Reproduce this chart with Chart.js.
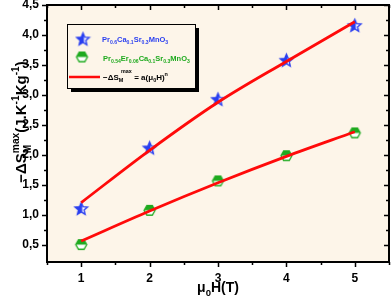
<!DOCTYPE html>
<html>
<head>
<meta charset="utf-8">
<script src="https://cdn.jsdelivr.net/npm/chart.js@4/dist/chart.umd.min.js"></script>
<style>
  html, body { margin: 0; padding: 0; background: #fff; }
  canvas { display: block; }
</style>
</head>
<body>
<canvas id="chart" width="392" height="297"></canvas>
<script>
// field values mu0H (T)
const fields = [1, 2, 3, 4, 5];
// -dS_M^max for Pr0.6Ca0.1Sr0.3MnO3
const dsPrCaSr = [1.11, 2.12, 2.93, 3.58, 4.16];
// -dS_M^max for Pr0.54Er0.06Ca0.1Sr0.3MnO3
const dsPrErCaSr = [0.51, 1.08, 1.57, 1.99, 2.37];
// fitted curves a(mu0H)^n
const fitPrCaSr = [1.21, 2.08, 2.88, 3.56, 4.22];
const fitPrErCaSr = [0.57, 1.07, 1.54, 1.98, 2.39];

const FONT = '"Liberation Sans", Arial, sans-serif';
const BLUE = '#2a3ff0';
const GREEN = '#1faa1f';
const RED = '#ff0a0a';
const BG = '#fdf5e9';

function starPath(g, cx, cy, r) {
  g.beginPath();
  for (let i = 0; i < 10; i++) {
    const rr = i % 2 ? r * 0.45 : r;
    const a = -Math.PI / 2 + i * Math.PI / 5;
    g.lineTo(cx + rr * Math.cos(a), cy + rr * Math.sin(a));
  }
  g.closePath();
}

function hexPath(g, cx, cy, r) {
  g.beginPath();
  for (let i = 0; i < 6; i++) {
    const a = i * Math.PI / 3;
    g.lineTo(cx + r * Math.cos(a), cy + r * Math.sin(a));
  }
  g.closePath();
}

function makeStar(r) {
  const s = Math.ceil(r * 2 + 4);
  const c = document.createElement('canvas');
  c.width = c.height = s;
  const g = c.getContext('2d');
  starPath(g, s / 2, s / 2 + 0.5, r);
  g.fillStyle = '#fff';
  g.fill();
  g.save();
  g.beginPath(); g.rect(0, 0, s / 2 + 1, s); g.clip();
  starPath(g, s / 2, s / 2 + 0.5, r);
  g.fillStyle = BLUE; g.fill();
  g.restore();
  starPath(g, s / 2, s / 2 + 0.5, r);
  g.strokeStyle = BLUE; g.lineWidth = 1.4; g.stroke();
  return c;
}

function makeHex(r) {
  const s = Math.ceil(r * 2 + 4);
  const c = document.createElement('canvas');
  c.width = c.height = s;
  const g = c.getContext('2d');
  hexPath(g, s / 2, s / 2, r);
  g.fillStyle = '#fff'; g.fill();
  g.save();
  g.beginPath(); g.rect(0, 0, s, s / 2); g.clip();
  hexPath(g, s / 2, s / 2, r);
  g.fillStyle = GREEN; g.fill();
  g.restore();
  hexPath(g, s / 2, s / 2, r);
  g.strokeStyle = GREEN; g.lineWidth = 1.3; g.stroke();
  return c;
}

const starImg = makeStar(6.5);
const hexImg = makeHex(5.5);

// text with sub/superscripts: parts = [[text, 'n'|'sub'|'sup'], ...]
function richWidth(ctx, parts, size) {
  let w = 0;
  parts.forEach(([t, m]) => {
    ctx.font = 'bold ' + (m === 'n' ? size : size * 0.68) + 'px ' + FONT;
    w += ctx.measureText(t).width;
  });
  return w;
}
function drawRich(ctx, parts, x, y, size, color) {
  ctx.fillStyle = color;
  ctx.textAlign = 'left';
  ctx.textBaseline = 'alphabetic';
  parts.forEach(([t, m]) => {
    const sz = m === 'n' ? size : size * 0.68;
    ctx.font = 'bold ' + sz + 'px ' + FONT;
    let dy = 0;
    if (m === 'sub') dy = size * 0.3;
    if (m === 'sup') dy = -size * 0.45;
    ctx.fillText(t, x, y + dy);
    x += ctx.measureText(t).width;
  });
  return x;
}

function isMajor(v, step) {
  return Math.abs(v / step - Math.round(v / step)) < 1e-6;
}

const decorPlugin = {
  id: 'decor',
  beforeDraw(chart) {
    const { ctx, chartArea: a } = chart;
    ctx.save();
    ctx.fillStyle = BG;
    ctx.fillRect(a.left, a.top, a.right - a.left, a.bottom - a.top);
    ctx.restore();
  },
  afterDraw(chart) {
    const { ctx, chartArea: a } = chart;
    const xs = chart.scales.x, ys = chart.scales.y;
    ctx.save();
    // frame
    ctx.strokeStyle = '#000';
    ctx.lineWidth = 2;
    ctx.strokeRect(a.left, a.top, a.right - a.left, a.bottom - a.top);
    // ticks
    ctx.lineWidth = 1.5;
    ctx.beginPath();
    xs.ticks.forEach(t => {
      if (!isMajor(t.value, 0.5)) return;
      const px = Math.round(xs.getPixelForValue(t.value)) + 0.5;
      const len = isMajor(t.value, 1) ? 5 : 3;
      ctx.moveTo(px, a.bottom); ctx.lineTo(px, a.bottom + len);
      ctx.moveTo(px, a.top); ctx.lineTo(px, a.top + len);
    });
    ys.ticks.forEach(t => {
      if (!isMajor(t.value, 0.25)) return;
      const py = Math.round(ys.getPixelForValue(t.value)) + 0.5;
      const len = isMajor(t.value, 0.5) ? 5 : 3;
      ctx.moveTo(a.left, py); ctx.lineTo(a.left - len, py);
      ctx.moveTo(a.right, py); ctx.lineTo(a.right - len, py);
    });
    ctx.stroke();

    // legend box with shadow
    const lx = 67, ly = 24, lw = 128, lh = 64;
    ctx.fillStyle = '#000';
    ctx.fillRect(lx + 4, ly + 4, lw, lh);
    ctx.fillStyle = BG;
    ctx.fillRect(lx, ly, lw, lh);
    ctx.lineWidth = 1;
    ctx.strokeRect(lx + 0.5, ly + 0.5, lw, lh);
    ctx.drawImage(starImg, 83 - starImg.width / 2, 39 - starImg.height / 2);
    ctx.drawImage(hexImg, 82 - hexImg.width / 2, 57 - hexImg.height / 2);
    ctx.strokeStyle = RED;
    ctx.lineWidth = 2.5;
    ctx.beginPath(); ctx.moveTo(69, 77); ctx.lineTo(100, 77); ctx.stroke();

    drawRich(ctx, [['Pr', 'n'], ['0.6', 'sub'], ['Ca', 'n'], ['0.1', 'sub'], ['Sr', 'n'], ['0.3', 'sub'], ['MnO', 'n'], ['3', 'sub']], 102, 42, 7.5, BLUE);
    drawRich(ctx, [['Pr', 'n'], ['0.54', 'sub'], ['Er', 'n'], ['0.06', 'sub'], ['Ca', 'n'], ['0.1', 'sub'], ['Sr', 'n'], ['0.3', 'sub'], ['MnO', 'n'], ['3', 'sub']], 103, 61, 7.5, GREEN);
    drawRich(ctx, [['\u2212\u0394S', 'n'], ['M', 'sub']], 103, 80, 8, '#000');
    ctx.font = 'bold 5.4px ' + FONT;
    ctx.fillText('max', 121, 73);
    drawRich(ctx, [[' = a(\u03bc', 'n'], ['0', 'sub'], ['H)', 'n'], ['n', 'sup']], 132, 80, 8, '#000');

    // x title
    const xParts = [['\u03bc', 'n'], ['0', 'sub'], ['H(T)', 'n']];
    const xw = richWidth(ctx, xParts, 14);
    drawRich(ctx, xParts, (a.left + a.right) / 2 - xw / 2, 292, 14, '#000');

    // y title (rotated)
    ctx.save();
    ctx.translate(26, 122);
    ctx.rotate(-Math.PI / 2);
    const s = 15;
    ctx.font = 'bold ' + s + 'px ' + FONT;
    const w1 = ctx.measureText('\u2212\u0394S').width;
    ctx.font = 'bold ' + (s * 0.68) + 'px ' + FONT;
    const wMax = ctx.measureText('max').width;
    const rest = [['(J.K', 'n'], ['-1', 'sup'], ['Kg', 'n'], ['-1', 'sup'], [')', 'n']];
    const total = w1 + wMax + richWidth(ctx, rest, s);
    let x0 = -total / 2;
    drawRich(ctx, [['\u2212\u0394S', 'n']], x0, 0, s, '#000');
    ctx.font = 'bold ' + (s * 0.68) + 'px ' + FONT;
    ctx.fillText('M', x0 + w1, s * 0.32);
    ctx.fillText('max', x0 + w1, -s * 0.45);
    drawRich(ctx, rest, x0 + w1 + wMax, 0, s, '#000');
    ctx.restore();

    ctx.restore();
  }
};

const ctx = document.getElementById('chart').getContext('2d');
new Chart(ctx, {
  type: 'scatter',
  data: {
    datasets: [
      {
        label: 'fit 1',
        data: fields.map((x, i) => ({ x, y: fitPrCaSr[i] })),
        showLine: true,
        borderColor: RED,
        borderWidth: 2.8,
        pointRadius: 0,
        cubicInterpolationMode: 'monotone',
        order: 0
      },
      {
        label: 'fit 2',
        data: fields.map((x, i) => ({ x, y: fitPrErCaSr[i] })),
        showLine: true,
        borderColor: RED,
        borderWidth: 2.8,
        pointRadius: 0,
        cubicInterpolationMode: 'monotone',
        order: 0
      },
      {
        label: 'Pr0.6Ca0.1Sr0.3MnO3',
        data: fields.map((x, i) => ({ x, y: dsPrCaSr[i] })),
        pointStyle: starImg,
        pointRadius: 7,
        order: 1
      },
      {
        label: 'Pr0.54Er0.06Ca0.1Sr0.3MnO3',
        data: fields.map((x, i) => ({ x, y: dsPrErCaSr[i] })),
        pointStyle: hexImg,
        pointRadius: 6,
        order: 1
      }
    ]
  },
  options: {
    responsive: false,
    animation: false,
    devicePixelRatio: 1,
    layout: { autoPadding: false, padding: { top: 5, right: 3, left: 0, bottom: 0 } },
    plugins: { legend: { display: false }, tooltip: { enabled: false } },
    scales: {
      x: {
        type: 'linear',
        min: 0.5,
        max: 5.5,
        afterFit(scale) {
          scale.height = 35;
          scale.paddingLeft = 0;
          scale.paddingRight = 0;
        },
        grid: { display: false, drawTicks: false },
        border: { display: false },
        ticks: {
          stepSize: 0.5,
          autoSkip: false,
          maxRotation: 0,
          padding: 9,
          color: '#000',
          font: { family: FONT, size: 12, weight: 'bold' },
          callback: v => isMajor(v, 1) ? String(Math.round(v)) : ''
        }
      },
      y: {
        type: 'linear',
        min: 0.22,
        max: 4.5,
        afterFit(scale) {
          scale.width = 47;
          scale.paddingTop = 0;
          scale.paddingBottom = 0;
        },
        grid: { display: false, drawTicks: false },
        border: { display: false },
        ticks: {
          stepSize: 0.25,
          autoSkip: false,
          padding: 8,
          color: '#000',
          font: { family: FONT, size: 12, weight: 'bold' },
          callback: v => isMajor(v, 0.5) ? v.toFixed(1).replace('.', ',') : ''
        }
      }
    }
  },
  plugins: [decorPlugin]
});
</script>
</body>
</html>
